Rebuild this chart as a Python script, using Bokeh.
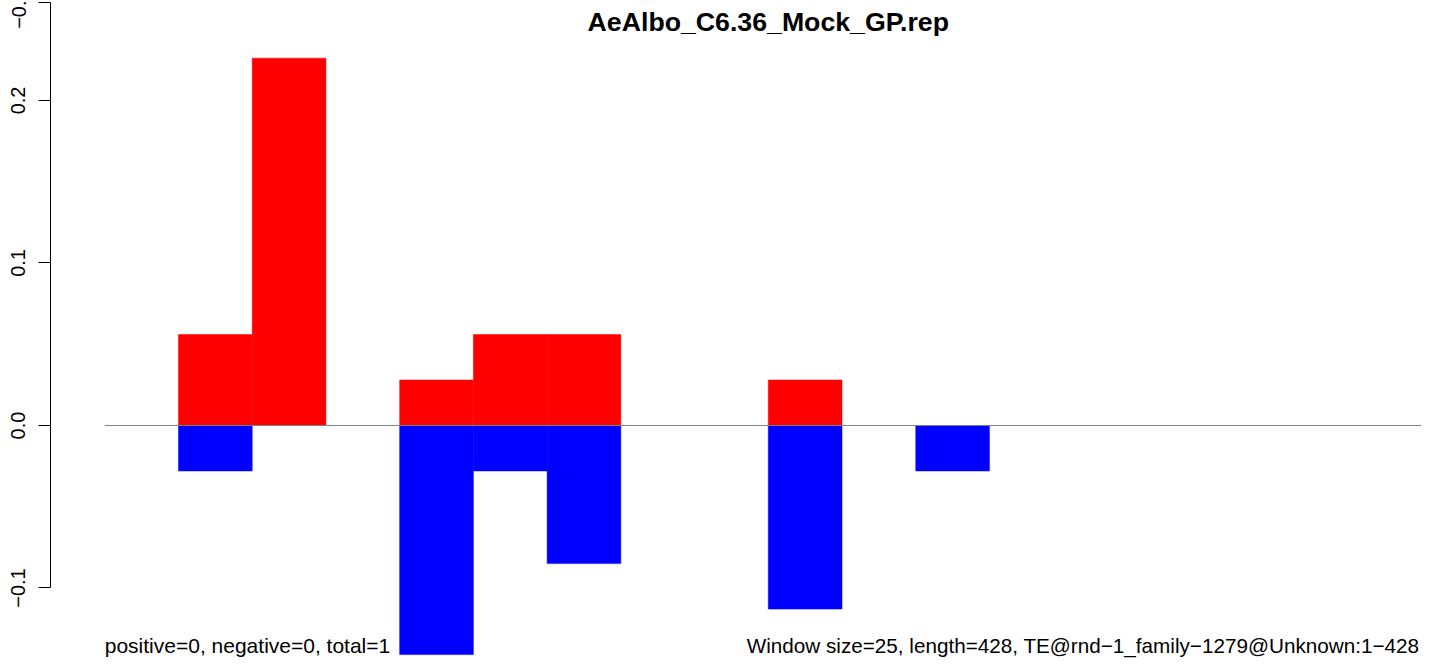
from bokeh.plotting import figure
from bokeh.models import Range1d, FixedTicker, Label
from bokeh.embed import file_html
from bokeh.resources import INLINE

# ---- data ----
title_text = "AeAlbo_C6.36_Mock_GP.rep"
window_size = 25
seq_length = 428
n_windows = 18
pos_values = [0.0, 0.056, 0.226, 0.0, 0.028, 0.056, 0.056, 0.0, 0.0, 0.028,
              0.0, 0.0, 0.0, 0.0, 0.0, 0.0, 0.0, 0.0]
neg_values = [0.0, -0.028, 0.0, 0.0, -0.141, -0.028, -0.085, 0.0, 0.0, -0.113,
              0.0, -0.028, 0.0, 0.0, 0.0, 0.0, 0.0, 0.0]
y_ticks = [-0.1, 0.0, 0.1, 0.2, 0.26]
y_tick_labels = ["\u22120.1", "0.0", "0.1", "0.2", "\u22120."]
left_note = "positive=0, negative=0, total=1"
right_note = "Window size=25, length=428, TE@rnd\u22121_family\u22121279@Unknown:1\u2212428"

FONT = "Liberation Sans"

x_start, x_end = -18.4, 446.5
y_start, y_end = -0.144, 0.2615

p = figure(width=1421, height=659, output_backend="svg", toolbar_location=None,
           x_range=Range1d(x_start, x_end), y_range=Range1d(y_start, y_end),
           min_border_left=50, min_border_right=0, min_border_top=0, min_border_bottom=0,
           x_axis_location=None)
p.outline_line_color = None
p.xgrid.visible = False
p.ygrid.visible = False
p.background_fill_color = "white"

lefts = [i * window_size for i in range(n_windows)]
rights = [(i + 1) * window_size for i in range(n_windows)]

pl = [l for l, v in zip(lefts, pos_values) if v != 0]
pr = [r for r, v in zip(rights, pos_values) if v != 0]
pv = [v for v in pos_values if v != 0]
nl = [l for l, v in zip(lefts, neg_values) if v != 0]
nr = [r for r, v in zip(rights, neg_values) if v != 0]
nv = [v for v in neg_values if v != 0]

p.quad(left=pl, right=pr, bottom=0, top=pv, fill_color="#FF0000", line_color="#FF0000", line_width=0.5)
p.quad(left=nl, right=nr, bottom=nv, top=0, fill_color="#0000FF", line_color="#0000FF", line_width=0.5)

p.line(x=[0, n_windows * window_size], y=[0, 0], line_color="#808080", line_width=1)

ax = p.yaxis[0]
ax.ticker = FixedTicker(ticks=y_ticks)
ax.major_label_overrides = {t: l for t, l in zip(y_ticks, y_tick_labels)}
ax.bounds = (y_ticks[0], y_ticks[-1])
ax.major_tick_out = 12
ax.major_tick_in = 0
ax.minor_tick_out = 0
ax.minor_tick_in = 0
ax.major_label_orientation = "vertical"
ax.major_label_standoff = 13
ax.major_label_text_font = FONT
ax.major_label_text_font_size = "20px"
ax.major_label_text_color = "black"
ax.axis_line_color = "black"
ax.major_tick_line_color = "black"

p.add_layout(Label(x=n_windows * window_size / 2, y=0.248, text=title_text,
                   text_align="center", text_baseline="middle",
                   text_font=FONT, text_font_size="26.7px", text_font_style="bold",
                   text_color="black"))
p.add_layout(Label(x=0, y=-0.1425, text=left_note, text_align="left",
                   text_baseline="bottom", text_font=FONT,
                   text_font_size="21px", text_color="black"))
p.add_layout(Label(x=x_end - 0.7, y=-0.1425, text=right_note,
                   text_align="right", text_baseline="bottom", text_font=FONT,
                   text_font_size="20.7px", text_color="black"))

open("out.html", "w").write(file_html(p, INLINE))
